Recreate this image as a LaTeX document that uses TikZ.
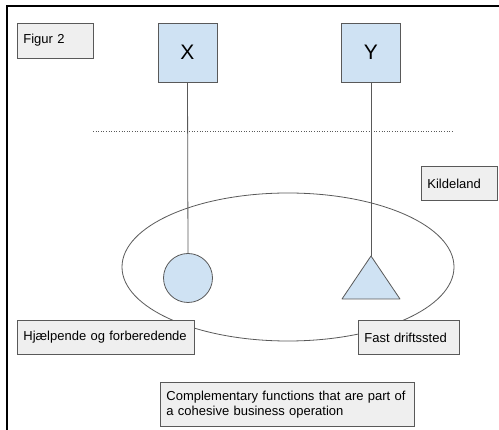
\documentclass[tikz,border=0pt]{standalone}
\usepackage{fontspec}
\setmainfont{Liberation Sans}
\usetikzlibrary{shapes.geometric}
\definecolor{boxblue}{HTML}{CFE2F3}
\definecolor{boxgray}{HTML}{EFEFEF}
\definecolor{edge}{HTML}{595959}
\tikzset{
  labelbox/.style={draw=edge, fill=boxgray, line width=0.8pt, rectangle,
    anchor=north west, inner xsep=6pt, inner ysep=0pt, align=left,
    font=\fontsize{13}{15}\selectfont},
  letterbox/.style={draw=edge, fill=boxblue, line width=0.8pt, rectangle,
    minimum width=59pt, minimum height=59pt, inner sep=0pt,
    font=\fontsize{21}{24}\selectfont},
  link/.style={draw=edge, line width=0.8pt}
}
\begin{document}
\begin{tikzpicture}[x=1pt, y=-1pt]
\useasboundingbox (0,0) rectangle (499,430);
% open frame
\draw[line width=2pt] (6.5,430) -- (6.5,6.5) -- (499,6.5);

% dotted border line
\draw[edge, line width=0.8pt, dash pattern=on 1pt off 1.6pt] (93,131) -- (453,131);

% the enclosing oval
\node[ellipse, draw=edge, line width=0.8pt, minimum width=332pt, minimum height=148pt, inner sep=0pt] (oval) at (288,267) {};

% top entities
\node[letterbox] (X) at (187.5,52.5) {X};
\node[letterbox] (Y) at (371,52.5) {Y};

% circle and triangle
\node[circle, draw=edge, fill=boxblue, line width=0.8pt, minimum size=49pt, inner sep=0pt] (C) at (188,278) {};
\coordinate (apex) at (371,256);
\draw[edge, fill=boxblue, line width=0.8pt, line join=round] (apex) -- (400,299) -- (342,299) -- cycle;

\draw[link] (X.south) -- (C.north);
\draw[link] (Y.south) -- (apex);

% labels
\node[labelbox, minimum width=76pt, minimum height=35pt, text width=64pt] (fig) at (17,23) {\raisebox{4pt}{Figur 2}};
\node[labelbox, minimum width=76pt, minimum height=34pt, text width=64pt] (kilde) at (421,166) {Kildeland};
\node[labelbox, minimum width=177pt, minimum height=34pt, text width=165pt] (hjaelp) at (17,320) {Hjælpende og forberedende};
\node[labelbox, minimum width=101pt, minimum height=34pt, text width=89pt] (fast) at (358,320) {Fast driftssted};
\node[labelbox, minimum width=254pt, minimum height=44pt, text width=242pt] (compl) at (160,382) {Complementary functions that are part of\\a cohesive business operation};
\end{tikzpicture}
\end{document}
